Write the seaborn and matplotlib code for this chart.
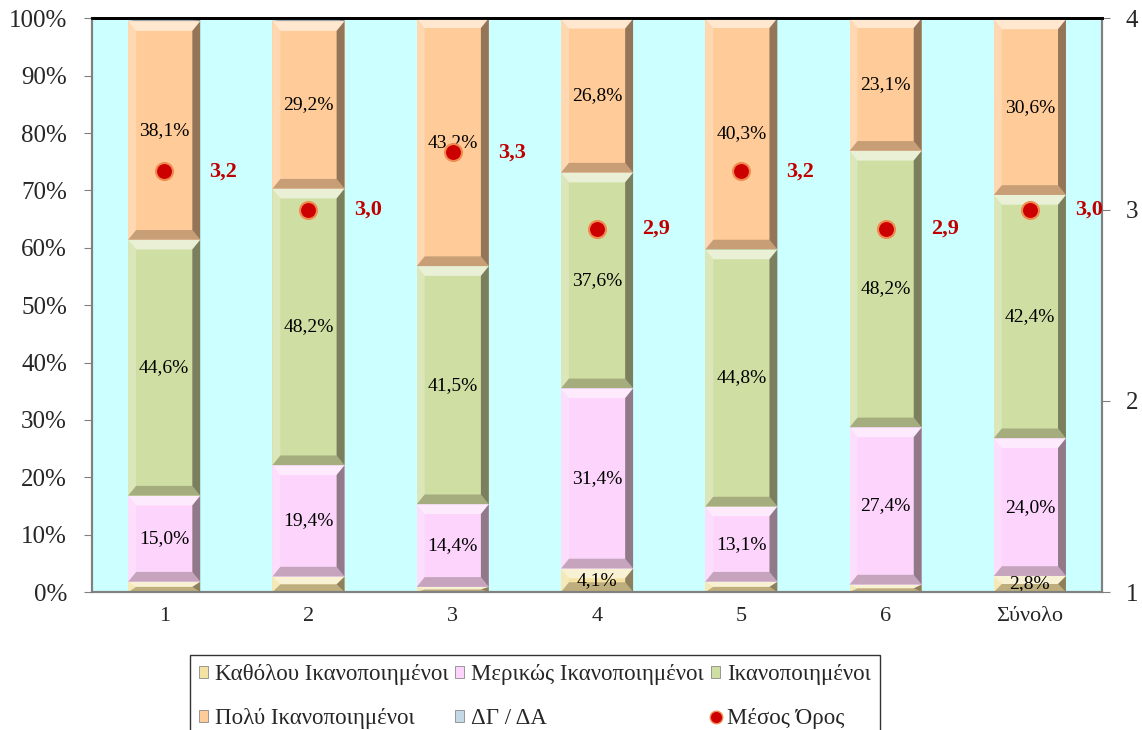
import numpy as np
import pandas as pd
import seaborn as sns
import matplotlib.pyplot as plt
from matplotlib.lines import Line2D
from matplotlib.patches import Patch, Polygon

sns.set_style("white")
plt.rcParams['font.family'] = ['Liberation Serif', 'DejaVu Serif']

groups = ["1", "2", "3", "4", "5", "6", "Σύνολο"]
katholou = [1.8, 2.7, 0.9, 4.1, 1.8, 1.3, 2.8]
merikos = [15.0, 19.4, 14.4, 31.4, 13.1, 27.4, 24.0]
ikanop = [44.6, 48.2, 41.5, 37.6, 44.8, 48.2, 42.4]
poly = [38.1, 29.2, 43.2, 26.8, 40.3, 23.1, 30.6]
dgda = [0.5, 0.5, 0.0, 0.1, 0.0, 0.0, 0.2]
mesos = [3.2, 3.0, 3.3, 2.9, 3.2, 2.9, 3.0]

series = [
    ("Καθόλου Ικανοποιημένοι", katholou, "#f3e2a2"),
    ("Μερικώς Ικανοποιημένοι", merikos, "#fcd4fc"),
    ("Ικανοποιημένοι", ikanop, "#cfdfa3"),
    ("Πολύ Ικανοποιημένοι", poly, "#ffcc99"),
    ("ΔΓ / ΔΑ", dgda, "#c4d9e6"),
]

fig = plt.figure(figsize=(11.42, 7.3), dpi=100)
ax = fig.add_axes([0.0806, 0.189, 0.8844, 0.786])
ax.set_facecolor("#ccffff")

bottom = np.zeros(len(groups))
for name, vals, col in series:
    vals = np.array(vals)
    sns.barplot(x=groups, y=vals, bottom=bottom, color=col, width=0.5,
                edgecolor="none", linewidth=0, saturation=1, ax=ax)
    for i, v in enumerate(vals):
        if v >= 2.75:
            ax.text(i, bottom[i] + v / 2, f"{v:.1f}%".replace(".", ","),
                    ha="center", va="center", fontsize=14, color="black", zorder=6)
    bottom = bottom + vals

ax.set_xlim(-0.5, len(groups) - 0.5)
ax.set_ylim(0, 100)

# bevel shading on each bar segment, taken from the drawn patches
bx = 0.055   # horizontal bevel in data units
by = 1.7     # vertical bevel in percent
for p in list(ax.patches):
    x0, y0 = p.get_x(), p.get_y()
    w, h = p.get_width(), p.get_height()
    if h <= 0:
        continue
    b = min(by, h / 2)
    x1, y1 = x0 + w, y0 + h
    ax.add_patch(Polygon([(x0, y1), (x1, y1), (x1 - bx, y1 - b), (x0 + bx, y1 - b)],
                         closed=True, facecolor="white", alpha=0.55, lw=0, zorder=3))
    ax.add_patch(Polygon([(x0, y0), (x1, y0), (x1 - bx, y0 + b), (x0 + bx, y0 + b)],
                         closed=True, facecolor="#3a2a20", alpha=0.28, lw=0, zorder=3))
    ax.add_patch(Polygon([(x0, y0), (x0 + bx, y0 + b), (x0 + bx, y1 - b), (x0, y1)],
                         closed=True, facecolor="white", alpha=0.25, lw=0, zorder=3))
    ax.add_patch(Polygon([(x1, y0), (x1 - bx, y0 + b), (x1 - bx, y1 - b), (x1, y1)],
                         closed=True, facecolor="#2a2018", alpha=0.5, lw=0, zorder=3))

ax.set_yticks(np.arange(0, 101, 10))
ax.set_yticklabels([f"{t}%" for t in range(0, 101, 10)], fontsize=18)
ax.set_xticks(range(len(groups)))
ax.set_xticklabels(groups, fontsize=16)
ax.set_xticks(np.arange(-0.5, len(groups), 1), minor=True)
ax.tick_params(axis="x", which="major", length=0, pad=11)
ax.tick_params(axis="x", which="minor", length=6, color="#808080", direction="out")
ax.tick_params(axis="y", length=6, color="#808080", direction="out", left=True, pad=12)
ax.set_xlabel("")
ax.set_ylabel("")

ax2 = ax.twinx()
ax2.set_ylim(1, 4)
ax2.set_yticks([1, 2, 3, 4])
ax2.set_yticklabels(["1", "2", "3", "4"], fontsize=18)
ax2.tick_params(axis="y", length=6, color="#808080", direction="out", right=True, pad=11)
sns.scatterplot(x=list(range(len(groups))), y=mesos, ax=ax2, s=150, color="#cc0000",
                edgecolor="#f08a50", linewidth=1.5, zorder=5, legend=False)
for i, m in enumerate(mesos):
    ax2.text(i + 0.41, m, f"{m:.1f}".replace(".", ","), ha="center", va="center",
             fontsize=16, fontweight="bold", color="#c00000")

for a in (ax, ax2):
    for s in ["left", "right", "bottom"]:
        a.spines[s].set_color("#808080")
        a.spines[s].set_linewidth(1.5)
    a.spines["top"].set_color("black")
    a.spines["top"].set_linewidth(2)

handles = {name: Patch(facecolor=col, edgecolor="#8a8a8a", linewidth=0.6)
           for name, _, col in series}
handles["Μέσος Όρος"] = Line2D([], [], marker="o", linestyle="", markersize=9,
                               markerfacecolor="#cc0000", markeredgecolor="#f08a50")
order = ["Καθόλου Ικανοποιημένοι", "Πολύ Ικανοποιημένοι",
         "Μερικώς Ικανοποιημένοι", "ΔΓ / ΔΑ",
         "Ικανοποιημένοι", "Μέσος Όρος"]
fig.legend([handles[k] for k in order], order, ncol=3, loc="upper left",
           bbox_to_anchor=(0.166, 0.103), fontsize=16.5, frameon=True,
           edgecolor="black", fancybox=False, handlelength=0.4, handleheight=0.45,
           handletextpad=0.3, columnspacing=0.3, labelspacing=1.0,
           borderpad=0.4, borderaxespad=0)

fig.savefig("out.png", dpi=100)
